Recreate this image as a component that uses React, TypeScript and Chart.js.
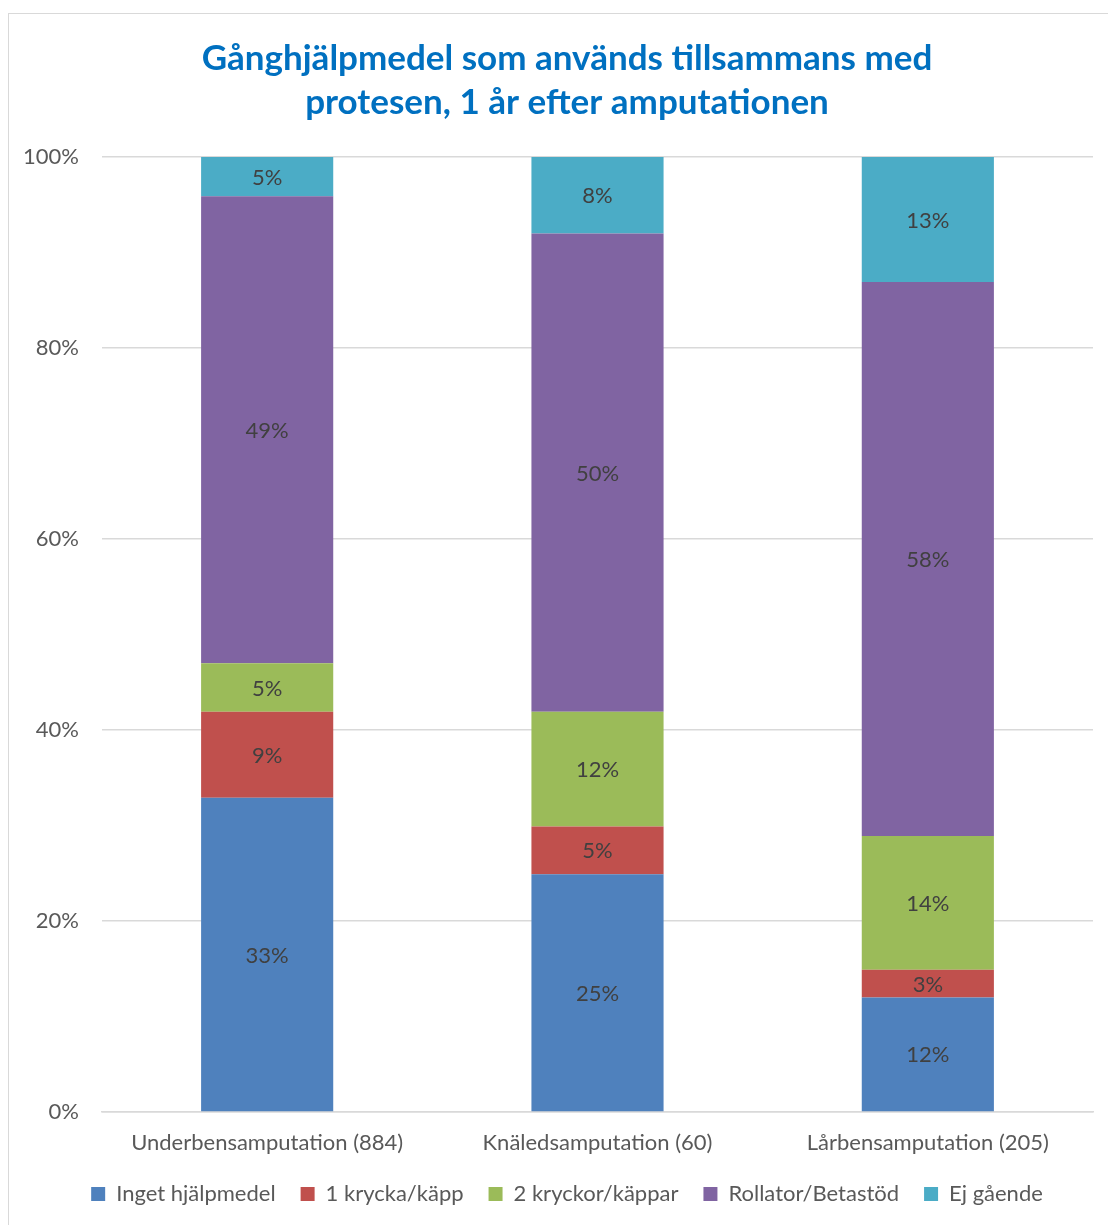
import React, { useEffect, useRef } from "react";
import { Chart, registerables } from "chart.js";

Chart.register(...registerables);

const categories = ["Underbensamputation (884)", "Knäledsamputation (60)", "Lårbensamputation (205)"];
const seriesNames = ["Inget hjälpmedel", "1 krycka/käpp", "2 kryckor/käppar", "Rollator/Betastöd", "Ej gående"];
const ingetHjalpmedel = [32.9, 24.9, 12.0];
const enKrycka = [9.0, 5.0, 2.9];
const tvaKryckor = [5.1, 12.0, 14.0];
const rollator = [48.9, 50.1, 58.0];
const ejGaende = [4.5, 8.0, 13.1];
const seriesColors = ["#4F81BD", "#C0504D", "#9BBB59", "#8064A2", "#4BACC6"];
const titleLines = ["Gånghjälpmedel som används tillsammans med", "protesen, 1 år efter amputationen"];

const FONT = "Lato";

const dataLabelPlugin = {
  id: "dataLabels",
  afterDatasetsDraw(chart: any) {
    const ctx = chart.ctx;
    const top = chart.chartArea.top;
    ctx.save();
    ctx.font = `22px ${FONT}`;
    ctx.fillStyle = "#404040";
    ctx.textAlign = "center";
    ctx.textBaseline = "middle";
    chart.data.datasets.forEach((ds: any, di: number) => {
      const meta = chart.getDatasetMeta(di);
      meta.data.forEach((el: any, i: number) => {
        const { x, y, base } = el.getProps(["x", "y", "base"], true);
        const v = ds.data[i];
        const yy = Math.max(y, top);
        ctx.fillText(Math.round(v) + "%", x, (yy + base) / 2 + 1);
      });
    });
    ctx.restore();
  },
};

const CANVAS_W = 1118;

export default function App() {
  const ref = useRef<HTMLCanvasElement>(null);
  useEffect(() => {
    document.body.style.margin = "0";
    document.body.style.overflow = "hidden";
    const all = [ingetHjalpmedel, enKrycka, tvaKryckor, rollator, ejGaende];
    const chart = new Chart(ref.current!, {
      type: "bar",
      data: {
        labels: categories,
        datasets: all.map((d, i) => ({
          label: seriesNames[i],
          data: d,
          backgroundColor: seriesColors[i],
          borderWidth: 0,
          categoryPercentage: 1,
          barPercentage: 0.4,
        })),
      },
      options: {
        animation: false,
        responsive: false,
        devicePixelRatio: 1,
        layout: { padding: { left: 0, right: 0, top: 0, bottom: 10 } },
        plugins: {
          title: {
            display: true,
            text: titleLines,
            color: "#0070C0",
            font: { family: FONT, size: 35, weight: "bold", lineHeight: 1.257 },
            padding: { top: 24, bottom: 32 },
          },
          legend: {
            position: "bottom",
            labels: {
              boxWidth: 14,
              boxHeight: 14,
              padding: 25,
              color: "#595959",
              font: { family: FONT, size: 22 },
            },
          },
          tooltip: { enabled: false },
        },
        scales: {
          x: {
            stacked: true,
            grid: { display: false },
            border: { color: "#d9d9d9", width: 1.5 },
            afterFit: (s: any) => { s.height = 46; },
            ticks: { color: "#595959", font: { family: FONT, size: 22 }, padding: 10 },
          },
          y: {
            stacked: true,
            min: 0,
            max: 100,
            afterFit: (s: any) => { s.width = 94; },
            grid: { color: "#d9d9d9", lineWidth: 1.5, drawTicks: false },
            border: { display: false },
            ticks: {
              stepSize: 20,
              color: "#595959",
              font: { family: FONT, size: 22 },
              padding: 23,
              callback: (v: any) => v + "%",
            },
          },
          yRight: {
            position: "right",
            display: true,
            min: 0,
            max: 100,
            afterFit: (s: any) => { s.width = CANVAS_W - 1085; },
            grid: { display: false },
            border: { display: false },
            ticks: { display: false },
          },
        },
      },
      plugins: [dataLabelPlugin],
    });
    return () => chart.destroy();
  }, []);
  return (
    <div style={{ position: "relative", width: 1108, height: 1225, overflow: "hidden", background: "#fff" }}>
      <div
        style={{
          position: "absolute",
          left: 8,
          top: 13,
          width: 1200,
          height: 1300,
          borderLeft: "1.5px solid #d9d9d9",
          borderTop: "1.5px solid #d9d9d9",
          boxSizing: "border-box",
        }}
      />
      <canvas
        ref={ref}
        width={CANVAS_W}
        height={1212}
        style={{ position: "absolute", left: 8, top: 13, width: CANVAS_W, height: 1212 }}
      />
    </div>
  );
}
